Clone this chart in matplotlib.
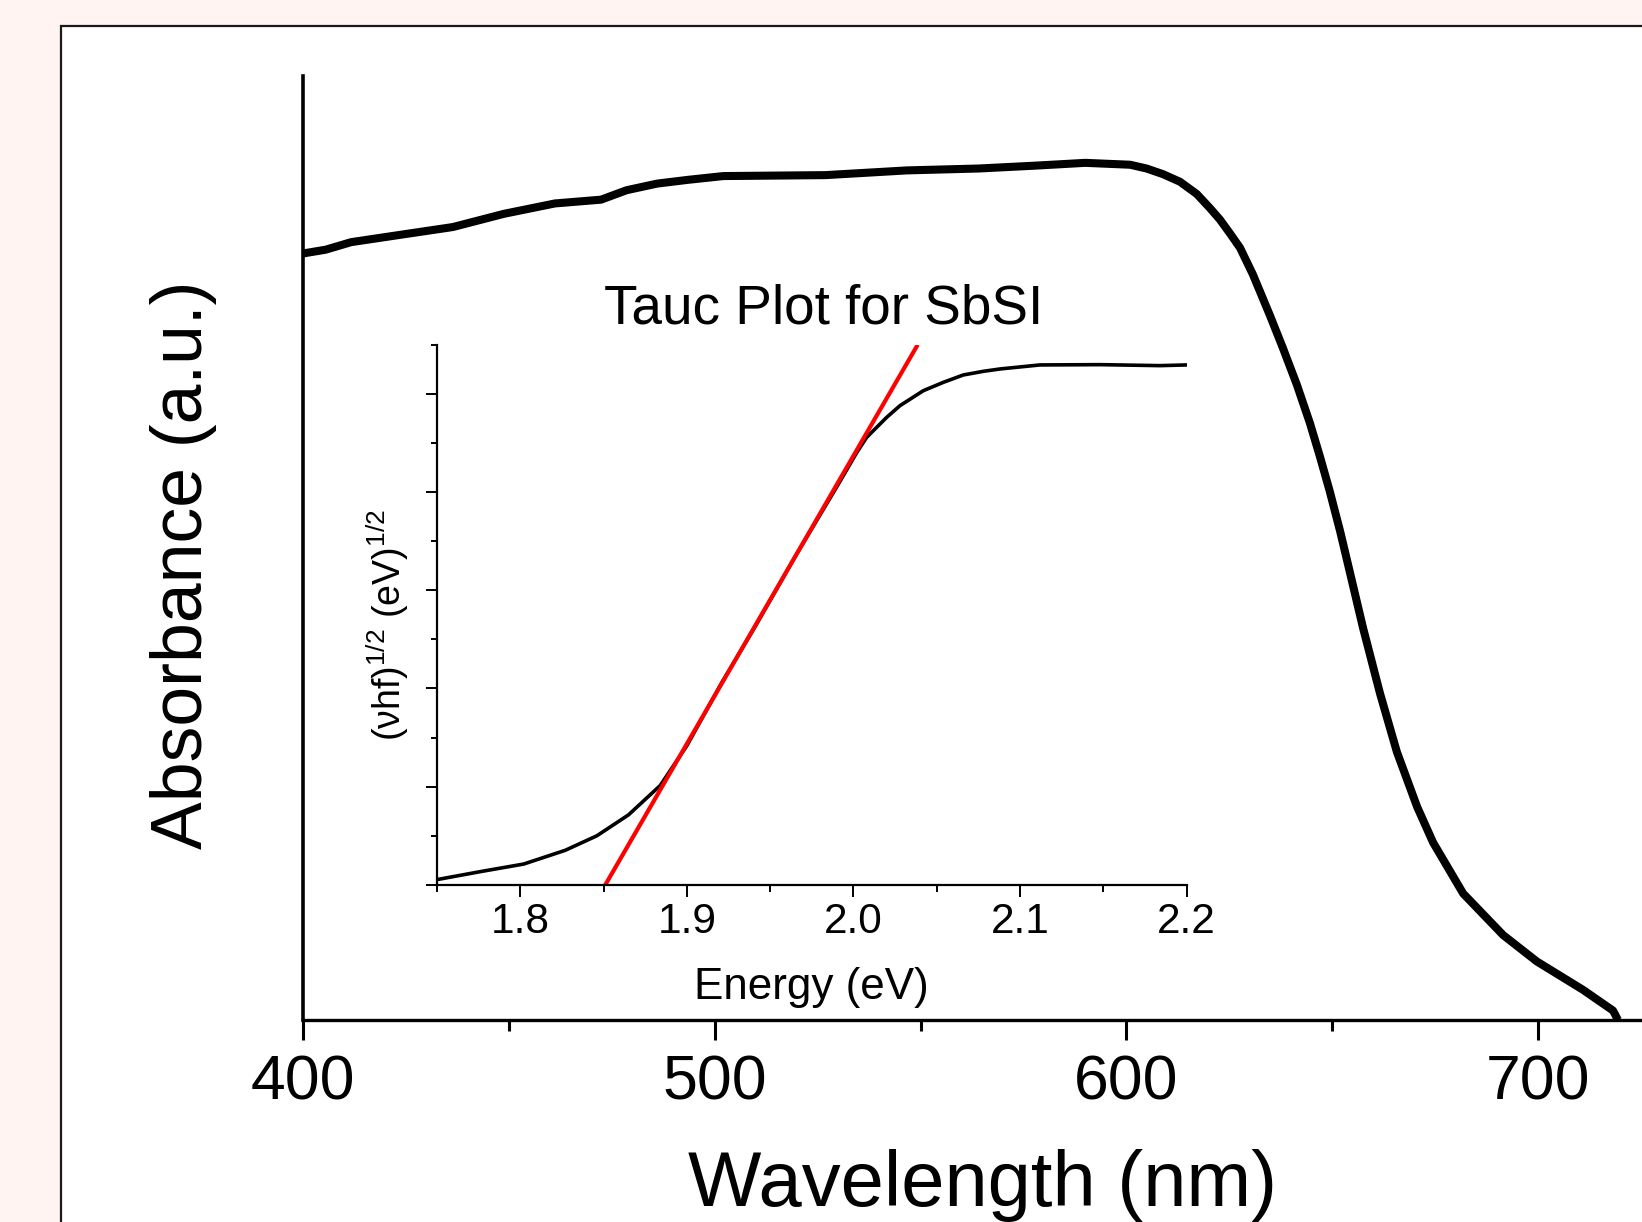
#!/usr/bin/env python3
"""UV-vis absorbance of SbSI with a Tauc-plot inset."""

import matplotlib
matplotlib.use("Agg")
import matplotlib.pyplot as plt
from matplotlib.patches import Rectangle
from matplotlib.ticker import MultipleLocator

plt.rcParams["font.family"] = ["Liberation Sans", "DejaVu Sans"]
plt.rcParams["mathtext.fontset"] = "custom"
plt.rcParams["mathtext.rm"] = "Liberation Sans"

# main spectrum
WAVELENGTH = [400.0, 405.5, 411.7, 424.0, 436.4, 448.8, 461.2, 472.4, 478.6, 486.0,
              493.5, 502.1, 526.9, 546.7, 564.1, 577.7, 590.0, 600.9, 604.9, 608.9,
              613.0, 617.1, 620.3, 622.7, 625.2, 627.6, 630.7, 634.9, 638.0, 641.4,
              644.6, 647.0, 649.4, 651.9, 654.3, 657.5, 661.6, 665.7, 670.6, 674.5,
              681.8, 691.5, 699.7, 710.9, 718.2, 719.4]
ABSORBANCE = [0.812, 0.816, 0.824, 0.832, 0.840, 0.854, 0.865, 0.869, 0.879, 0.886,
              0.890, 0.894, 0.895, 0.900, 0.902, 0.905, 0.908, 0.906, 0.902, 0.896,
              0.888, 0.875, 0.860, 0.848, 0.833, 0.818, 0.790, 0.746, 0.712, 0.673,
              0.632, 0.597, 0.560, 0.518, 0.474, 0.415, 0.346, 0.284, 0.226, 0.188,
              0.134, 0.090, 0.062, 0.032, 0.010, 0.000]
WL_TICKS = [400, 500, 600, 700]

# Tauc inset
ENERGY = [1.750, 1.777, 1.802, 1.827, 1.846, 1.865, 1.884, 1.900, 1.921, 1.940,
          1.965, 1.991, 2.002, 2.008, 2.020, 2.028, 2.042, 2.054, 2.066, 2.078,
          2.088, 2.112, 2.148, 2.184, 2.200]
TAUC = [0.055, 0.139, 0.213, 0.353, 0.501, 0.714, 1.012, 1.417, 2.06, 2.60,
        3.34, 4.08, 4.40, 4.556, 4.759, 4.878, 5.030, 5.115, 5.190, 5.227,
        5.251, 5.292, 5.295, 5.285, 5.292]
FIT_E = [1.851, 2.038]
FIT_U = [0.0, 5.48]
E_TICKS = [1.8, 1.9, 2.0, 2.1, 2.2]
E_LABELS = ["1.8", "1.9", "2.0", "2.1", "2.2"]


def main():
    fig = plt.figure(figsize=(16.42, 12.22), dpi=100, facecolor="#fff4f2")

    # white panel with thin frame, running off the right and bottom edges
    fig.add_artist(Rectangle((61 / 1642, -0.1), 1.1, 0.1 + 1 - 26 / 1222,
                             transform=fig.transFigure, facecolor="white",
                             edgecolor="#1a1a1a", linewidth=1.6, zorder=0))

    ax = fig.add_axes([303 / 1642, 1 - 1020 / 1222, 1358.6 / 1642, 944 / 1222])
    ax.set_facecolor("none")
    ax.plot(WAVELENGTH, ABSORBANCE, color="black", linewidth=5.8,
            solid_joinstyle="round", solid_capstyle="butt", clip_on=False)
    ax.set_xlim(400, 730)
    ax.set_ylim(0, 1)
    for side in ["top", "right"]:
        ax.spines[side].set_visible(False)
    ax.spines["left"].set_linewidth(2.6)
    ax.spines["bottom"].set_linewidth(2.4)
    ax.set_yticks([])
    ax.set_xticks(WL_TICKS)
    ax.xaxis.set_minor_locator(MultipleLocator(50))
    ax.tick_params(axis="x", which="major", direction="out", length=14.5,
                   width=2.2, labelsize=45, pad=9.5)
    ax.tick_params(axis="x", which="minor", direction="out", length=8, width=2.2)
    ax.set_xlabel("Wavelength (nm)", fontsize=56)
    ax.xaxis.set_label_coords(0.4999, -0.137)
    ax.set_ylabel("Absorbance (a.u.)", fontsize=51.5)
    ax.yaxis.set_label_coords(-0.063, 0.482)

    # inset
    ins = fig.add_axes([437 / 1642, 1 - 885 / 1222, 749.5 / 1642, 540.5 / 1222])
    ins.set_facecolor("none")
    ins.plot(ENERGY, TAUC, color="black", linewidth=2.6, solid_joinstyle="round")
    ins.plot(FIT_E, FIT_U, color="#ff0000", linewidth=3.0)
    ins.set_xlim(1.75, 2.2)
    ins.set_ylim(0, 5.5)
    for side in ["top", "right"]:
        ins.spines[side].set_visible(False)
    for side in ["left", "bottom"]:
        ins.spines[side].set_linewidth(1.6)
    ins.set_xticks(E_TICKS)
    ins.set_xticklabels(E_LABELS)
    ins.xaxis.set_minor_locator(MultipleLocator(0.05))
    ins.yaxis.set_major_locator(MultipleLocator(1))
    ins.yaxis.set_minor_locator(MultipleLocator(0.5))
    ins.tick_params(axis="x", which="major", direction="out", length=8.5,
                    width=1.4, labelsize=30.5, pad=4)
    ins.tick_params(axis="x", which="minor", direction="out", length=5, width=1.4)
    ins.tick_params(axis="y", which="major", direction="out", length=8,
                    width=1.4, labelleft=False)
    ins.tick_params(axis="y", which="minor", direction="out", length=4.5, width=1.4)
    ins.set_xlabel("Energy (eV)", fontsize=31.7)
    ins.xaxis.set_label_coords(0.5, -0.152)
    ins.set_ylabel(r"(νhf)$^{\mathregular{1/2}}$ (eV)$^{\mathregular{1/2}}$", fontsize=27)
    ins.yaxis.set_label_coords(-0.035, 0.481)
    ins.text(0.516, 1.038, "Tauc Plot for SbSI", transform=ins.transAxes,
             ha="center", va="baseline", fontsize=39.5)

    fig.savefig("out.png", dpi=100, facecolor=fig.get_facecolor())


if __name__ == "__main__":
    main()
